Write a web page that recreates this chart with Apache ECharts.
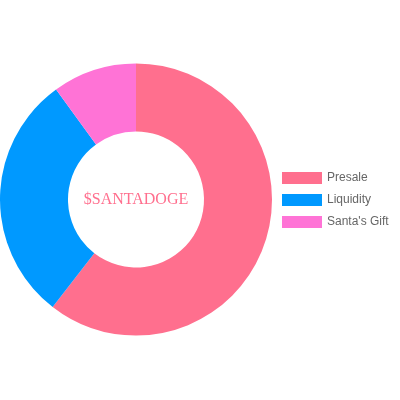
<!DOCTYPE html>
<html>
<head>
<meta charset="utf-8">
<script src="https://cdn.jsdelivr.net/npm/echarts@6/dist/echarts.min.js"></script>
<style>
html,body{margin:0;padding:0;background:#fff;}
#c{width:400px;height:400px;}
</style>
</head>
<body>
<div id="c"></div>
<script>
const categories = ["Presale", "Liquidity", "Santa's Gift"];
const values = [60.5, 29.5, 10];
const colors = ["#ff6f8e", "#0099ff", "#ff73d6"];
const centerLabel = "$SANTADOGE";

const chart = echarts.init(document.getElementById('c'), null, {renderer: 'canvas'});
chart.setOption({
  animation: false,
  legend: {
    orient: 'vertical',
    left: 277,
    top: 167,
    padding: 5,
    itemWidth: 40,
    itemHeight: 12,
    itemGap: 10,
    icon: 'rect',
    textStyle: {color: '#666', fontSize: 12, fontFamily: 'Liberation Sans, Arial, sans-serif'},
    data: categories
  },
  graphic: [{
    type: 'text',
    x: 136,
    y: 199.5,
    style: {
      text: centerLabel,
      align: 'center',
      verticalAlign: 'middle',
      font: '16px "Liberation Serif", "Times New Roman", serif',
      fill: '#ff6f8e'
    }
  }],
  series: [{
    type: 'pie',
    center: [136, 199.5],
    radius: [68, 136],
    startAngle: 90,
    clockwise: true,
    label: {show: false},
    labelLine: {show: false},
    emphasis: {disabled: true},
    itemStyle: {borderWidth: 0},
    data: categories.map((c, i) => ({name: c, value: values[i], itemStyle: {color: colors[i]}}))
  }]
});
</script>
</body>
</html>
